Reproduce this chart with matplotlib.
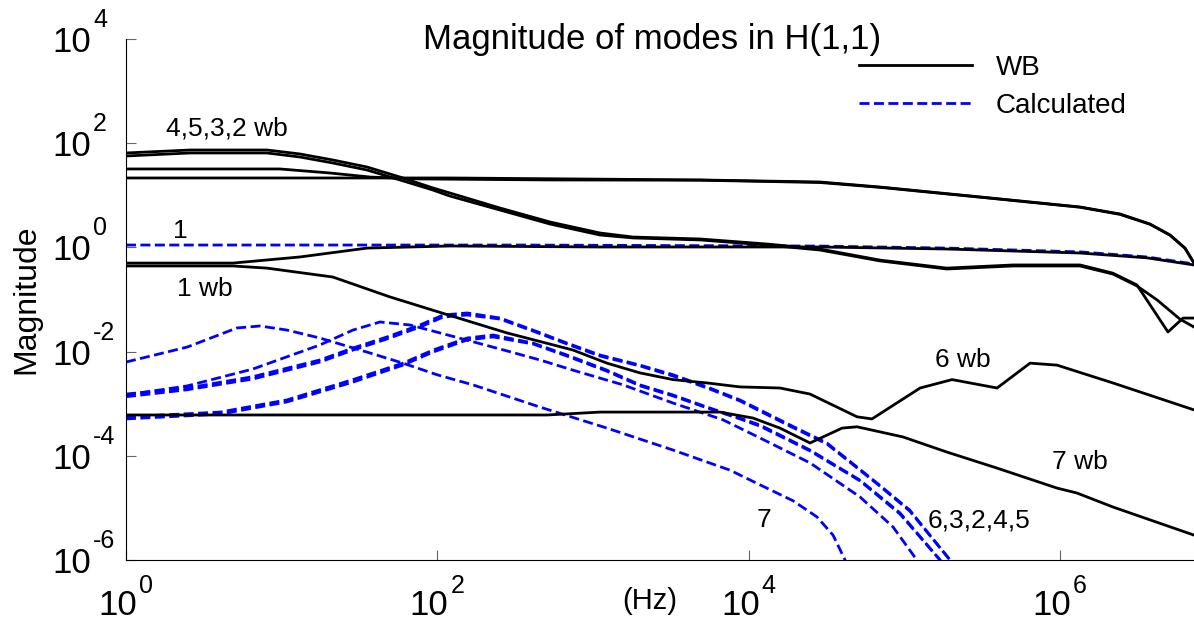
import matplotlib
matplotlib.use('Agg')
import matplotlib.pyplot as plt
from matplotlib.lines import Line2D
from matplotlib.ticker import FixedLocator, NullLocator

plt.rcParams['font.family'] = ['Liberation Sans', 'DejaVu Sans']

wb2_freq = [1, 120, 4860, 28600, 69700, 3.05e5, 1.34e6, 2.42e6, 3.77e6, 5.07e6, 6.33e6, 7.23e6]
wb2_mag = [21.5, 21.5, 19.7, 18.0, 14.4, 9.3, 5.96, 4.38, 2.81, 1.73, 0.97, 0.50]

wb3_freq = [1, 9.75, 20.4, 36.9, 77.3, 529, 4860, 28600, 69700, 3.05e5, 1.34e6, 2.42e6, 3.77e6, 5.07e6, 6.33e6, 7.23e6]
wb3_mag = [32.0, 32.0, 26.8, 22.4, 20.6, 19.7, 19.5, 17.6, 14.2, 9.2, 5.9, 4.3, 2.78, 1.72, 0.96, 0.50]

wb4_freq = [1, 2.58, 8.05, 13.1, 21.3, 35.3, 57.5, 93.8, 120, 252, 529, 1107, 1800, 4864, 13090,
            28640, 69660, 1.87e5, 4.98e5, 1.34e6, 2.18e6, 3.11e6, 4.92e6, 6.15e6, 7.23e6]
wb4_mag = [64.9, 74.0, 74.0, 62.1, 47.6, 34.9, 22.4, 13.8, 11.1, 5.70, 3.07, 1.89, 1.58, 1.45, 1.16,
           0.93, 0.57, 0.40, 0.46, 0.46, 0.32, 0.19, 0.0238, 0.044, 0.044]

wb5_freq = [1, 2.58, 8.05, 13.1, 21.3, 35.3, 57.5, 93.8, 120, 252, 529, 1107, 1800, 4864, 13090,
            28640, 69660, 1.87e5, 4.98e5, 1.34e6, 2.18e6, 3.11e6, 4.19e6, 5.87e6, 7.23e6]
wb5_mag = [56.8, 64.9, 64.9, 54.3, 41.7, 30.6, 19.7, 12.6, 9.7, 5.22, 2.81, 1.73, 1.52, 1.39, 1.11,
           0.89, 0.55, 0.385, 0.44, 0.44, 0.308, 0.182, 0.098, 0.042, 0.0296]

wb1_freq = [1, 4.87, 13.1, 35.3, 120, 1107, 28640, 1.87e5, 1.34e6, 3.61e6, 7.23e6]
wb1_mag = [0.50, 0.50, 0.655, 0.97, 1.064, 1.018, 1.018, 0.931, 0.78, 0.63, 0.46]

wb6_freq = [1, 4.87, 8.05, 21.3, 49.6, 112, 280, 743, 1227, 2000, 3258, 5395, 8770, 15850, 24720,
            49550, 61800, 1.26e5, 2.02e5, 3.93e5, 6.40e5, 9.53e5, 2.18e6, 7.23e6]
wb6_mag = [0.44, 0.44, 0.40, 0.27, 0.112, 0.0527, 0.0228, 0.0107, 0.0060, 0.0039, 0.0029, 0.0025,
           0.0021, 0.0020, 0.00153, 5.6e-4, 5.1e-4, 0.0020, 0.0029, 0.0020, 0.0060, 0.0055, 0.0025, 7.6e-4]

wb7_freq = [1, 506, 1107, 6531, 10640, 15850, 24720, 39720, 49550, 97720, 1.87e5, 3.93e5, 9.53e5,
            1.28e6, 2.18e6, 7.23e6]
wb7_mag = [6.07e-4, 6.07e-4, 6.9e-4, 6.9e-4, 5.3e-4, 3.4e-4, 1.76e-4, 3.4e-4, 3.6e-4, 2.3e-4, 1.18e-4,
           5.8e-5, 2.4e-5, 1.93e-5, 1.04e-5, 3.0e-6]

# Calculated mode magnitudes
calc1_freq = [1, 340, 28640, 1.87e5, 1.34e6, 3.61e6, 7.23e6]
calc1_mag = [1.11, 1.11, 1.06, 0.97, 0.82, 0.655, 0.48]

calc2_freq = [1, 4.02, 10.8, 28.7, 60.1, 93.8, 155, 228, 411, 679, 1227, 2000, 3258, 5395, 8770,
              11800, 24720, 51800, 93600, 1.69e5, 1.77e5]
calc2_mag = [5.6e-4, 6.9e-4, 1.18e-3, 2.9e-3, 6.0e-3, 0.0107, 0.0182, 0.0208, 0.0146, 0.0086, 0.0044,
             0.0023, 1.47e-3, 8.6e-4, 5.3e-4, 3.9e-4, 1.29e-4, 3.4e-5, 8.0e-6, 1e-6, 7.3e-7]

calc3_freq = calc2_freq
calc3_mag = [5.1e-4, 6.3e-4, 1.08e-3, 2.6e-3, 5.5e-3, 9.8e-3, 0.0167, 0.0191, 0.0140, 0.0082, 4.2e-3,
             2.2e-3, 1.41e-3, 8.3e-4, 5.1e-4, 3.7e-4, 1.24e-4, 3.3e-5, 7.6e-6, 1e-6, 7.3e-7]

calc4_freq = [1, 2.47, 6.54, 17.6, 28.7, 47.5, 77.3, 109, 155, 252, 411, 679, 1107, 2000, 3258, 5395,
              8770, 11800, 18400, 31780, 66580, 1.08e5, 1.96e5, 2.05e5]
calc4_mag = [1.53e-3, 2.0e-3, 3.3e-3, 0.0069, 0.0117, 0.0191, 0.0324, 0.0504, 0.0551, 0.0442, 0.0259,
             0.0146, 0.0086, 0.0055, 0.0036, 0.0021, 0.00118, 7.6e-4, 3.9e-4, 1.76e-4, 3.0e-5, 9.1e-6,
             1e-6, 7.3e-7]

calc5_freq = calc4_freq
calc5_mag = [1.36e-3, 1.85e-3, 2.98e-3, 6.3e-3, 0.0107, 0.0175, 0.0296, 0.0461, 0.0504, 0.0422, 0.0248,
             0.0140, 0.0082, 5.3e-3, 3.4e-3, 2.0e-3, 1.13e-3, 7.2e-4, 3.7e-4, 1.68e-4, 2.9e-5, 8.7e-6,
             1e-6, 7.3e-7]

calc6_freq = [1, 2.47, 6.54, 17.6, 28.7, 42.8, 66.7, 104, 162, 280, 456, 743, 1556, 3258, 6823, 11800,
              24720, 51800, 84400, 1.20e5, 1.26e5]
calc6_mag = [1.47e-3, 2.19e-3, 4.63e-3, 0.0134, 0.0259, 0.0370, 0.0324, 0.0228, 0.0160, 0.0103, 0.0069,
             0.0044, 0.0023, 0.00103, 4.9e-4, 2.2e-4, 7.3e-5, 1.62e-5, 4.3e-6, 1e-6, 7.3e-7]

calc7_freq = [1, 2.47, 5.16, 7.26, 10.8, 17.6, 36.9, 60.1, 99.3, 169, 456, 1227, 3258, 7568, 11800,
              19230, 27420, 34750, 41500, 43350]
calc7_mag = [0.0063, 0.0122, 0.0284, 0.0310, 0.0259, 0.0182, 0.0094, 0.0060, 0.0036, 0.0023, 8.6e-4,
             3.4e-4, 1.29e-4, 5.3e-5, 2.77e-5, 1.37e-5, 6.7e-6, 3.0e-6, 1e-6, 7.0e-7]

y_ticks = [1e-6, 1e-4, 1e-2, 1e0, 1e2, 1e4]
y_exponents = ['-6', '-4', '-2', '0', '2', '4']
x_ticks = [1e0, 1e2, 1e4, 1e6]
x_exponents = ['0', '2', '4', '6']

DASH = (3.6, 1.6)

fig = plt.figure(figsize=(11.94, 6.2), dpi=100)
ax = fig.add_axes([0.1055, 0.0968, 0.8945, 0.8403])

# calculated (blue dashed) under the measured (black) ones
calculated = [(calc1_freq, calc1_mag), (calc2_freq, calc2_mag), (calc3_freq, calc3_mag),
              (calc4_freq, calc4_mag), (calc5_freq, calc5_mag), (calc6_freq, calc6_mag),
              (calc7_freq, calc7_mag)]
for freq, mag in calculated:
    ax.plot(freq, mag, color='#0000ff', lw=2.0, linestyle=(0, DASH))

measured = [(wb1_freq, wb1_mag), (wb2_freq, wb2_mag), (wb3_freq, wb3_mag), (wb4_freq, wb4_mag),
            (wb5_freq, wb5_mag), (wb6_freq, wb6_mag), (wb7_freq, wb7_mag)]
for freq, mag in measured:
    ax.plot(freq, mag, color='black', lw=2.0)

ax.set_xscale('log')
ax.set_yscale('log')
ax.set_xlim(1, 7.23e6)
ax.set_ylim(1e-6, 1e4)
ax.xaxis.set_major_locator(FixedLocator(x_ticks))
ax.yaxis.set_major_locator(FixedLocator(y_ticks))
ax.xaxis.set_minor_locator(NullLocator())
ax.yaxis.set_minor_locator(NullLocator())

for side in ['top', 'right']:
    ax.spines[side].set_visible(False)
for side in ['left', 'bottom']:
    ax.spines[side].set_linewidth(0.8)

ax.tick_params(direction='in', length=7.5, width=0.8, color='0.4',
               labelbottom=False, labelleft=False)

# MATLAB-style "10" with a large raised exponent
for val, exp in zip(y_ticks, y_exponents):
    ax.annotate('10', xy=(0, val), xycoords=('axes fraction', 'data'), xytext=(-35, -13),
                textcoords='offset pixels', ha='right', va='baseline', fontsize=25)
    ax.annotate(exp, xy=(0, val), xycoords=('axes fraction', 'data'), xytext=(-33, 12),
                textcoords='offset pixels', ha='left', va='baseline', fontsize=18)
for val, exp in zip(x_ticks, x_exponents):
    ax.annotate('10', xy=(val, 0), xycoords=('data', 'axes fraction'), xytext=(11, -55),
                textcoords='offset pixels', ha='right', va='baseline', fontsize=25)
    ax.annotate(exp, xy=(val, 0), xycoords=('data', 'axes fraction'), xytext=(13, -33),
                textcoords='offset pixels', ha='left', va='baseline', fontsize=18)

ax.set_ylabel('Magnitude', fontsize=23)
ax.yaxis.set_label_coords(-0.079, 0.5)
ax.set_xlabel('(Hz)', fontsize=21)
ax.xaxis.set_label_coords(0.4906, -0.052)

ax.text(0.4925, 0.9808, 'Magnitude of modes in H(1,1)', transform=ax.transAxes,
        ha='center', va='baseline', fontsize=25)

# curve annotations
notes = [('4,5,3,2 wb', 0.0375, 0.814), ('1', 0.044, 0.618), ('1 wb', 0.0478, 0.507),
         ('6 wb', 0.7575, 0.3704), ('7 wb', 0.867, 0.1747), ('6,3,2,4,5', 0.7509, 0.0614),
         ('7', 0.5908, 0.0633)]
for label, xf, yf in notes:
    ax.text(xf, yf, label, transform=ax.transAxes, ha='left', va='baseline', fontsize=19)

handles = [Line2D([], [], color='black', lw=2.0),
           Line2D([], [], color='#0000ff', lw=2.0, linestyle=(0, DASH))]
ax.legend(handles, ['WB', 'Calculated'], loc='upper left', bbox_to_anchor=(845 / 1194, 0.9335),
          bbox_transform=fig.transFigure, frameon=False, borderpad=0, fontsize=20,
          handlelength=4.07, handletextpad=0.86, labelspacing=0.42)

fig.savefig('out.png', dpi=100)
